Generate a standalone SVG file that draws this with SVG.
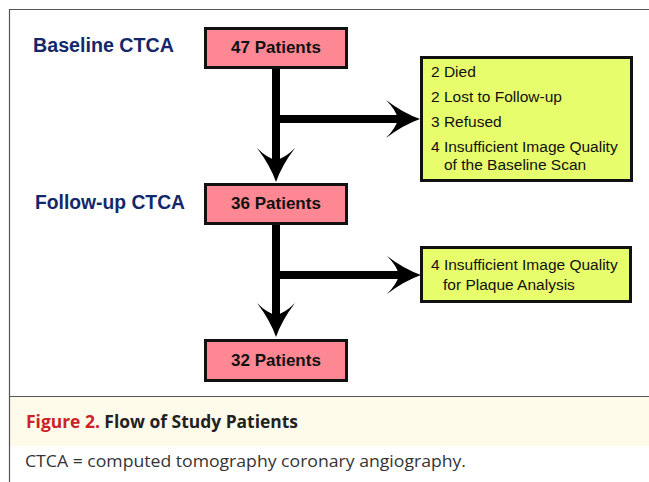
<svg xmlns="http://www.w3.org/2000/svg" width="649" height="482" viewBox="0 0 649 482">
  <style>
    .pink { fill: #fd8893; stroke: #111; stroke-width: 3; }
    .yellow { fill: #e8fd6c; stroke: #111; stroke-width: 3; }
    .ptxt { font-family: "Liberation Sans", Arial, sans-serif; font-size: 17px; font-weight: bold; fill: #111; text-anchor: middle; }
    .ytxt { font-family: "Liberation Sans", Arial, sans-serif; font-size: 15.5px; fill: #111; }
    .stage { font-family: "Liberation Sans", Arial, sans-serif; font-size: 19.5px; font-weight: bold; fill: #13286b; }
    .conn { stroke: #000; stroke-width: 8; fill: none; }
    .cap { font-family: "Open Sans", "Noto Sans", sans-serif; }
  </style>
  <defs>
    <marker id="ah" viewBox="0 0 34 38" refX="14" refY="19" markerWidth="34" markerHeight="38" markerUnits="userSpaceOnUse" orient="auto">
      <path d="M0,0 Q17,13 34,19 Q17,25 0,38 Q10,28 12,19 Q10,10 0,0 Z" fill="#000"/>
    </marker>
  </defs>

  <!-- frame and caption area -->
  <rect x="9.5" y="397" width="640" height="49" fill="#fffbea"/>
  <path d="M649,9.5 H9.5 V482 M9.5,396.5 H649" fill="none" stroke="#555" stroke-width="1.2"/>

  <g id="connectors">
    <line class="conn" x1="276" y1="66" x2="276" y2="162" marker-end="url(#ah)"/>
    <line class="conn" x1="276" y1="119" x2="400" y2="119" marker-end="url(#ah)"/>
    <line class="conn" x1="276" y1="223" x2="276" y2="317" marker-end="url(#ah)"/>
    <line class="conn" x1="276" y1="275" x2="401" y2="275" marker-end="url(#ah)"/>
  </g>

  <g id="label-baseline">
    <text class="stage" x="33" y="52" textLength="141" lengthAdjust="spacingAndGlyphs">Baseline CTCA</text>
  </g>
  <g id="label-followup">
    <text class="stage" x="35" y="209" textLength="150" lengthAdjust="spacingAndGlyphs">Follow-up CTCA</text>
  </g>

  <g id="node-47">
    <rect class="pink" x="205.5" y="28.5" width="141" height="39"/>
    <text class="ptxt" x="276" y="53">47 Patients</text>
  </g>
  <g id="node-36">
    <rect class="pink" x="205.5" y="184.5" width="141" height="39"/>
    <text class="ptxt" x="276" y="209">36 Patients</text>
  </g>
  <g id="node-32">
    <rect class="pink" x="205.5" y="340.5" width="141" height="40"/>
    <text class="ptxt" x="276" y="366">32 Patients</text>
  </g>

  <g id="node-excluded-1">
    <rect class="yellow" x="421.5" y="57.5" width="210" height="123"/>
    <text class="ytxt" x="431" y="77">2 Died</text>
    <text class="ytxt" x="431" y="102">2 Lost to Follow-up</text>
    <text class="ytxt" x="431" y="127">3 Refused</text>
    <text class="ytxt" x="431" y="152">4 Insufficient Image Quality</text>
    <text class="ytxt" x="444" y="170">of the Baseline Scan</text>
  </g>
  <g id="node-excluded-2">
    <rect class="yellow" x="421.5" y="247.5" width="209" height="54"/>
    <text class="ytxt" x="431" y="270">4 Insufficient Image Quality</text>
    <text class="ytxt" x="443" y="290">for Plaque Analysis</text>
  </g>

  <g id="caption">
    <text class="cap" x="26" y="428" font-size="17" font-weight="bold" textLength="272" lengthAdjust="spacingAndGlyphs"><tspan fill="#cc2229">Figure 2.</tspan><tspan fill="#222"> Flow of Study Patients</tspan></text>
    <text class="cap" x="25" y="467" font-size="16.5" fill="#333" textLength="441" lengthAdjust="spacingAndGlyphs">CTCA = computed tomography coronary angiography.</text>
  </g>
</svg>
